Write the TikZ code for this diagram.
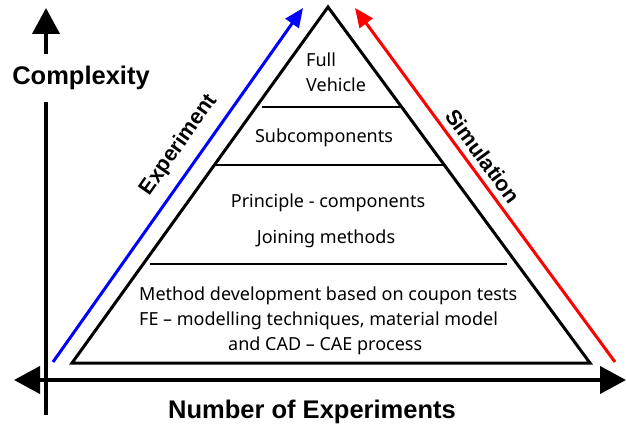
\documentclass[tikz,border=0pt]{standalone}
\usepackage{fontspec}
\setmainfont{Noto Sans}
\newfontfamily\labelfont{Liberation Sans}
\usetikzlibrary{arrows.meta}
\begin{document}
\begin{tikzpicture}[x=1pt,y=-1pt,
  axis/.style={line width=4pt},
  edge/.style={line width=3pt,line join=miter},
  level/.style={line width=1.3pt},
  trend/.style={line width=3pt,-{Triangle[length=19pt,width=16pt]}},
  body/.style={font=\fontsize{18}{25}\selectfont,inner sep=0pt},
  heading/.style={font=\labelfont\bfseries\fontsize{25.5}{30}\selectfont,inner sep=0pt},
  slanted/.style={font=\labelfont\bfseries\fontsize{21.5}{26}\selectfont,inner sep=0pt}]
\useasboundingbox (0,0) rectangle (626,428);

% pyramid outline
\coordinate (apex) at (328,7);
\coordinate (bl) at (72,363);
\coordinate (br) at (590,363);
\draw[edge] (apex) -- (bl) -- (br) -- cycle;

% level separators
\coordinate (l1a) at (262,107); \coordinate (l1b) at (400,107);
\coordinate (l2a) at (215,165); \coordinate (l2b) at (445,165);
\coordinate (l3a) at (150,264); \coordinate (l3b) at (507,264);
\draw[level] (l1a) -- (l1b);
\draw[level] (l2a) -- (l2b);
\draw[level] (l3a) -- (l3b);

% level contents
\node[body,align=left,anchor=west] (full) at (306,72) {Full\\Vehicle};
\node[body] (sub) at (324,138) {Subcomponents};
\node[body] (prin) at (328,203) {Principle - components};
\node[body] (join) at (326,239) {Joining methods};
\node[body,align=left,anchor=west] (meth) at (139,321)
  {Method development based on coupon tests\\FE -- modelling techniques, material model\\\hspace*{89pt}and CAD -- CAE process};

% axes
\coordinate (origin) at (46,415);
\coordinate (ytop) at (46,8);
\coordinate (xleft) at (14,380);
\coordinate (xright) at (626,380);
\node[heading] (cplx) at (81,78) {Complexity};
\draw[axis] (origin) -- (46,102);
\draw[axis,-{Triangle[length=26pt,width=27pt]}] (46,54) -- (ytop);
\draw[axis,{Triangle[length=26pt,width=27pt]}-{Triangle[length=26pt,width=27pt]}] (xleft) -- (xright);
\node[heading] (nexp) at (312,412) {Number of Experiments};

% experiment / simulation trends
\coordinate (es) at (53,362); \coordinate (ee) at (303,8);
\coordinate (ss) at (615,362); \coordinate (se) at (355,8);
\draw[trend,blue] (es) -- (ee);
\draw[trend,red] (ss) -- (se);
\node[slanted,rotate=54.8] (exp) at (179,145) {Experiment};
\node[slanted,rotate=-53.7] (sim) at (483,156) {Simulation};
\end{tikzpicture}
\end{document}
